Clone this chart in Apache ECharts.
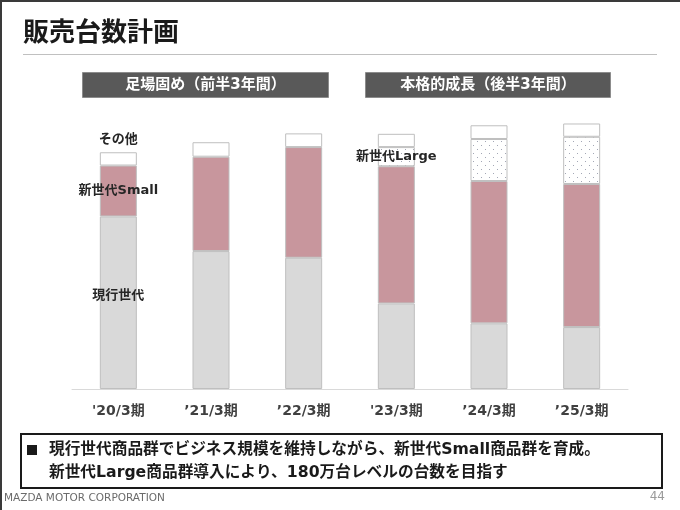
<!DOCTYPE html>
<html>
<head>
<meta charset="utf-8">
<script src="https://cdn.jsdelivr.net/npm/echarts@6/dist/echarts.min.js"></script>
<style>
html,body{margin:0;padding:0;background:#fff;}
#chart{width:680px;height:510px;}
</style>
</head>
<body>
<div id="chart"></div>
<script>
// ---- data ----
const categories = ["'20/3期", "’21/3期", "’22/3期", "'23/3期", "’24/3期", "’25/3期"];
const currentGen = [117, 93.5, 89, 58, 44.5, 42];      // 現行世代
const smallGen   = [34.5, 64, 75, 93, 96.5, 97];       // 新世代Small
const largeGen   = [null, null, null, 13, 28.5, 32];   // 新世代Large
const others     = [9, 9.8, 9.3, 9, 9.3, 9];           // その他
const seriesNames = ['現行世代', '新世代Small', '新世代Large', 'その他'];
const phaseLabels = ['足場固め（前半3年間）', '本格的成長（後半3年間）'];
const titleText = '販売台数計画';
const noteLines = ['現行世代商品群でビジネス規模を維持しながら、新世代Small商品群を育成。',
                   '新世代Large商品群導入により、180万台レベルの台数を目指す'];
const footerText = 'MAZDA MOTOR CORPORATION';
const pageNo = '44';

const FONT = "'DejaVu Sans', 'Noto Sans CJK JP', sans-serif";
const CJK = "'Noto Sans CJK JP', sans-serif";

// dotted pattern for 新世代Large
const pat = document.createElement('canvas');
pat.width = 8; pat.height = 8;
const pc = pat.getContext('2d');
pc.fillStyle = '#ffffff'; pc.fillRect(0, 0, 8, 8);
pc.fillStyle = '#a3a7b5';
pc.fillRect(1, 1, 1, 1);
pc.fillRect(5, 5, 1, 1);

const labelStyle = {fontFamily: FONT, fontWeight: 'bold', fontSize: 13, color: '#262626', formatter: '{a}'};

function withLabel(arr, idx, lbl) {
  return arr.map((v, i) => i === idx ? {value: v, label: Object.assign({show: true}, labelStyle, lbl)} : v);
}

const border = {borderColor: '#bfbfbf', borderWidth: 1};

const chart = echarts.init(document.getElementById('chart'), null, {renderer: 'canvas'});
chart.setOption({
  animation: false,
  backgroundColor: '#ffffff',
  grid: {left: 72, right: 52, top: 94, bottom: 121},
  xAxis: {
    type: 'category',
    data: categories,
    axisLine: {lineStyle: {color: '#d9d9d9', width: 1}},
    axisTick: {show: false},
    axisLabel: {fontFamily: FONT, fontWeight: 'bold', fontSize: 14, color: '#404040', margin: 15, lineHeight: 14}
  },
  yAxis: {type: 'value', min: 0, max: 200, show: false, splitLine: {show: false}},
  series: [
    {name: seriesNames[0], type: 'bar', stack: 's', barWidth: 37,
     itemStyle: Object.assign({color: '#d9d9d9'}, border),
     data: withLabel(currentGen, 0, {position: 'inside', offset: [0, -7]})},
    {name: seriesNames[1], type: 'bar', stack: 's', barWidth: 37,
     itemStyle: Object.assign({color: '#c8969d'}, border),
     data: withLabel(smallGen, 0, {position: 'inside'})},
    {name: seriesNames[2], type: 'bar', stack: 's', barWidth: 37,
     itemStyle: Object.assign({color: {image: pat, repeat: 'repeat'}}, border),
     data: withLabel(largeGen, 3, {position: 'inside'})},
    {name: seriesNames[3], type: 'bar', stack: 's', barWidth: 37,
     itemStyle: Object.assign({color: '#ffffff'}, border),
     data: withLabel(others, 0, {position: 'top', distance: 6})}
  ],
  graphic: [
    // frame
    {type: 'rect', shape: {x: 0, y: 0, width: 680, height: 2}, style: {fill: '#3a3a3a'}},
    {type: 'rect', shape: {x: 0, y: 0, width: 2, height: 510}, style: {fill: '#3a3a3a'}},
    // title
    {type: 'text', left: 23, top: 18, style: {text: titleText, font: "bold 26px " + CJK, fill: '#1a1a1a'}},
    {type: 'line', shape: {x1: 23, y1: 54.5, x2: 657, y2: 54.5}, style: {stroke: '#c0c0c0', lineWidth: 1}},
    // phase headers
    {type: 'rect', shape: {x: 82.5, y: 72.5, width: 246, height: 25}, style: {fill: '#595959', stroke: '#8c8c8c', lineWidth: 1}},
    {type: 'text', x: 205.5, y: 85, style: {text: phaseLabels[0], font: "bold 15px " + FONT, fill: '#ffffff', align: 'center', verticalAlign: 'middle'}},
    {type: 'rect', shape: {x: 365.5, y: 72.5, width: 245, height: 25}, style: {fill: '#595959', stroke: '#8c8c8c', lineWidth: 1}},
    {type: 'text', x: 488, y: 85, style: {text: phaseLabels[1], font: "bold 15px " + FONT, fill: '#ffffff', align: 'center', verticalAlign: 'middle'}},
    // note box
    {type: 'rect', shape: {x: 21, y: 434, width: 641, height: 54}, style: {fill: '#ffffff', stroke: '#1a1a1a', lineWidth: 2}},
    {type: 'rect', shape: {x: 27, y: 445, width: 10, height: 10}, style: {fill: '#1a1a1a'}},
    {type: 'text', x: 49, y: 450, style: {text: noteLines[0], font: "bold 15.7px " + FONT, fill: '#1a1a1a', verticalAlign: 'middle'}},
    {type: 'text', x: 49, y: 473, style: {text: noteLines[1], font: "bold 15.7px " + FONT, fill: '#1a1a1a', verticalAlign: 'middle'}},
    // footer
    {type: 'text', x: 4, y: 498, style: {text: footerText, font: "10.5px " + FONT, fill: '#6b6b6b', verticalAlign: 'middle'}},
    {type: 'text', x: 665, y: 497, style: {text: pageNo, font: "12px " + FONT, fill: '#9a9a9a', align: 'right', verticalAlign: 'middle'}}
  ]
});
</script>
</body>
</html>
